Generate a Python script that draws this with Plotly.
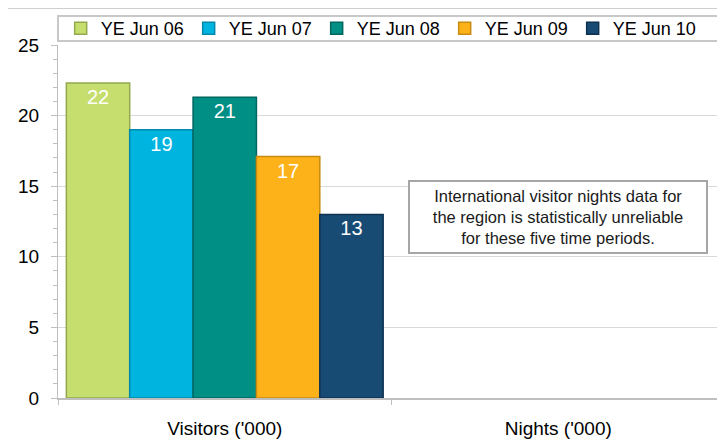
import plotly.graph_objects as go

categories = ["Visitors ('000)", "Nights ('000)"]
series_names = ["YE Jun 06", "YE Jun 07", "YE Jun 08", "YE Jun 09", "YE Jun 10"]
visitors = [22.3, 19.0, 21.3, 17.1, 13.0]
nights = [None, None, None, None, None]
colors = ["#c6de6e", "#00b4e0", "#008f85", "#fdb219", "#174b73"]
outline = ["#93a84f", "#0089ab", "#006660", "#c88a10", "#0e3150"]
note = "International visitor nights data for<br>the region is statistically unreliable<br>for these five time periods."

FONT = "Liberation Sans, Arial, sans-serif"

# the page body adds an 8px offset; the figure is shrunk by the same amount so
# the plot area lands where the reference has it
fig = go.Figure()
for name, v, n, c, o in zip(series_names, visitors, nights, colors, outline):
    fig.add_trace(go.Bar(
        name=name, x=categories, y=[v, n],
        marker=dict(color=c, line=dict(color=o, width=1.5)),
        texttemplate="%{y:.0f}", textposition="inside", insidetextanchor="end",
        textfont=dict(color="white", size=20, family=FONT),
        textangle=0,
    ))

fig.update_layout(
    width=717, height=433,
    margin=dict(l=50, r=0, t=37, b=43, autoexpand=False),
    paper_bgcolor="white", plot_bgcolor="white",
    barmode="group", bargap=0.05, bargroupgap=0,
    font=dict(family=FONT, color="#000000"),
    showlegend=True,
    legend=dict(
        orientation="h", x=0.004, xanchor="left", y=(398 - 28.5) / 353, yanchor="middle",
        entrywidth=83, entrywidthmode="pixels",
        font=dict(size=18, family=FONT, color="#000000"),
        bgcolor="rgba(0,0,0,0)", borderwidth=0,
        itemwidth=30, tracegroupgap=0,
    ),
    uniformtext=dict(minsize=8, mode="show"),
)

fig.update_yaxes(
    range=[0, 25], dtick=5, tick0=0, automargin=False,
    showgrid=True, gridcolor="#d9d9d9", gridwidth=1,
    showline=True, linecolor="#bfbfbf", linewidth=1,
    ticks="outside", ticklen=6, tickcolor="#bfbfbf",
    minor=dict(dtick=1, ticks="outside", ticklen=4, tickcolor="#bfbfbf", showgrid=False),
    tickfont=dict(size=19, family=FONT, color="#000000"),
    ticklabelstandoff=8, zeroline=False,
)
fig.update_xaxes(
    showline=True, linecolor="#bfbfbf", linewidth=2, automargin=False,
    ticks="outside", ticklen=5, tickcolor="#bfbfbf", tickson="boundaries",
    tickfont=dict(size=19, family=FONT, color="#000000"),
    ticklabelstandoff=12, showgrid=False,
)

# top gray band
fig.add_shape(type="rect", xref="paper", yref="paper",
              x0=-0.09, x1=1.02, y0=1.103, y1=1.119,
              line=dict(width=0), fillcolor="#bfbfbf", layer="above")
# legend frame
fig.add_shape(type="rect", xref="paper", yref="paper",
              x0=0.0, x1=0.998, y0=(398 - 41) / 353, y1=(398 - 16) / 353,
              line=dict(color="#c8c8c8", width=2), fillcolor="rgba(0,0,0,0)")

fig.add_annotation(
    x=categories[1], y=12.8, xref="x", yref="y", text=note, showarrow=False,
    font=dict(size=16.5, family=FONT, color="#1a1a1a"),
    bgcolor="white", bordercolor="#a6a6a6", borderwidth=2, borderpad=3,
    width=290, height=64, align="center",
)

fig.write_html("out.html")
